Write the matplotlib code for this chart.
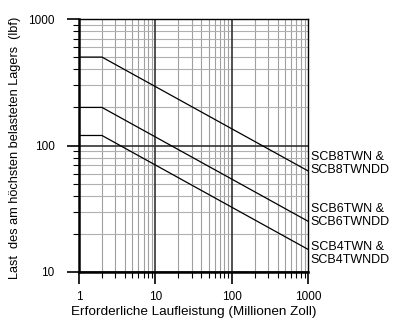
import matplotlib.pyplot as plt
import numpy as np
from matplotlib.ticker import NullFormatter, FixedLocator

plt.rcParams['font.family'] = ['Liberation Sans', 'DejaVu Sans']

# travel life (millions of inches) and bearing load (lbf)
life = [1, 2, 1000]
load_8 = [500, 500, 63]
load_6 = [200, 200, 25.2]
load_4 = [120, 120, 15.1]
labels = ["SCB8TWN &\nSCB8TWNDD", "SCB6TWN &\nSCB6TWNDD", "SCB4TWN &\nSCB4TWNDD"]
label_pos = [72, 28, 14]

fig = plt.figure(figsize=(3.93, 3.25), dpi=100)
ax = fig.add_axes([79 / 393, 53 / 325, 229 / 393, 253 / 325])

ax.set_xscale("log")
ax.set_yscale("log")
ax.set_xlim(1, 1000)
ax.set_ylim(10, 1000)

minor_x = [m * 10 ** d for d in range(3) for m in range(2, 10)]
minor_y = [m * 10 ** d for d in range(1, 3) for m in range(2, 10)]
for v in minor_x:
    ax.axvline(v, color="#a0a0a0", lw=0.8, zorder=1)
for v in minor_y:
    ax.axhline(v, color="#b0b0b0", lw=0.8, zorder=1)
for v in [10, 100]:
    ax.axvline(v, color="#333333", lw=1.2, zorder=2)
    ax.axhline(v, color="#333333", lw=1.2, zorder=2)

for ys in [load_8, load_6, load_4]:
    ax.plot(life, ys, color="black", lw=0.9, zorder=3)

for lab, y in zip(labels, label_pos):
    ax.text(1080, y, lab, fontsize=9, va="center", ha="left", linespacing=1.1)

ax.xaxis.set_major_locator(FixedLocator([1, 10, 100, 1000]))
ax.yaxis.set_major_locator(FixedLocator([10, 100, 1000]))
ax.xaxis.set_minor_locator(FixedLocator(minor_x))
ax.yaxis.set_minor_locator(FixedLocator(minor_y))
ax.xaxis.set_minor_formatter(NullFormatter())
ax.yaxis.set_minor_formatter(NullFormatter())
ax.set_xticklabels(["1", "10", "100", "1000"])
ax.set_yticklabels(["10", "100", "1000"])

ax.tick_params(which="major", length=8.5, width=1.2, labelsize=8.5, direction="out")
ax.tick_params(axis="y", which="major", pad=9)
ax.tick_params(axis="x", which="major", pad=5)
ax.tick_params(which="minor", length=4, width=0.8, direction="out")
ax.spines["left"].set_linewidth(1.8)
ax.spines["bottom"].set_linewidth(1.8)
ax.spines["top"].set_linewidth(1.0)
ax.spines["right"].set_linewidth(1.0)

ax.set_xlabel("Erforderliche Laufleistung (Millionen Zoll)", fontsize=9.7, labelpad=2)
ax.set_ylabel("Last  des am höchsten belasteten Lagers  (lbf)", fontsize=9.2, labelpad=5)
ax.yaxis.label.set_y(0.49)

fig.savefig("out.png", dpi=100)
